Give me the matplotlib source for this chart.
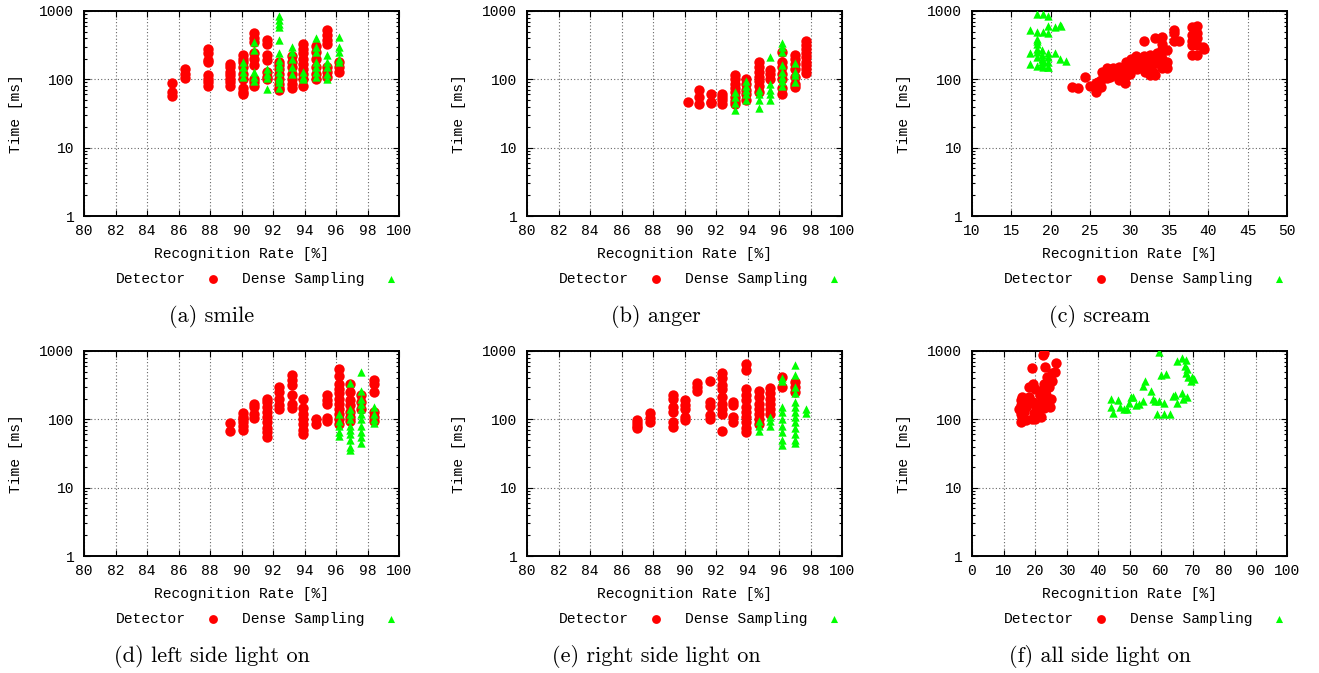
import matplotlib
matplotlib.use("Agg")
import matplotlib.pyplot as plt
from matplotlib.ticker import LogLocator, NullFormatter, FixedLocator

plt.rcParams["font.family"] = ["Liberation Mono", "DejaVu Sans Mono"]

# ---- data: (a) smile  -- columns of x with the times measured there
smile_det_x = [85.6, 86.4, 87.9, 89.3, 90.1, 90.8, 91.6, 92.4, 93.2, 93.9, 94.7, 95.4, 96.2]
smile_det_y = [[88, 65, 57], [140, 120, 105], [280, 240, 190, 180, 115, 100, 90, 80],
               [170, 150, 130, 115, 100, 90, 80], [230, 200, 180, 150, 120, 100, 75, 65, 60],
               [470, 400, 350, 240, 200, 160, 100, 90, 80], [380, 330, 230, 190, 130, 110, 100],
               [180, 160, 140, 120, 100, 85, 75, 70], [220, 180, 150, 120, 100, 85, 75],
               [330, 280, 240, 200, 170, 140, 120, 100, 80], [310, 250, 200, 150, 120, 100],
               [520, 450, 380, 330, 150, 130, 110], [180, 150, 130]]
smile_den_x = [90.1, 90.8, 91.6, 92.4, 93.2, 93.9, 94.7, 95.4, 96.2]
smile_den_y = [[180, 150, 130, 110], [350, 270, 130, 110, 95], [140, 120, 105, 72],
               [850, 750, 650, 580, 380, 240, 190, 170, 150, 130, 110, 100, 90, 75],
               [300, 250, 200, 150, 120], [130, 110, 100], [400, 300, 250, 180, 150, 130, 110],
               [230, 180, 150, 120, 100], [420, 300, 250, 200, 180]]

# ---- (b) anger
anger_det_x = [90.2, 90.9, 91.7, 92.4, 93.2, 93.9, 94.7, 95.4, 96.2, 97.0, 97.7]
anger_det_y = [[47], [70, 55, 43], [62, 47, 45], [62, 55, 50, 44],
               [115, 100, 85, 75, 65, 55, 48, 43], [100, 85, 70, 60, 50],
               [180, 150, 130, 110, 95, 80, 65], [135, 120, 100],
               [250, 180, 150, 120, 100, 75, 62], [230, 200, 170, 140, 110, 85, 78],
               [370, 320, 280, 240, 210, 180, 160, 140, 125]]
anger_den_x = [93.2, 93.9, 94.7, 95.4, 96.2, 97.0]
anger_den_y = [[65, 55, 45, 36], [95, 80, 70, 60, 50], [70, 60, 50, 38],
               [215, 85, 70, 60, 50], [340, 300, 250, 160, 130, 110, 95, 80], [175, 130, 115, 90]]

# ---- (c) scream
scream_det_x = [22.7, 23.4, 24.3, 25.0, 25.8, 25.8, 26.4, 26.4, 26.5, 27.1, 27.2, 27.2, 27.9, 27.9,
                28.7, 28.7, 29.4, 29.4, 29.5, 30.1, 30.2, 30.8, 30.8, 31.8, 31.8, 31.8, 32.6, 32.6,
                32.6, 33.3, 33.3, 33.3, 34.1, 34.1, 34.1, 34.1, 34.1, 34.8, 34.8, 34.8, 35.6, 35.6,
                35.6, 36.3, 37.9, 37.9, 37.9, 37.9, 37.9, 38.6, 38.6, 38.6, 38.6, 38.6, 39.4, 39.3,
                28.0, 28.5, 29.0, 29.5, 30.0, 30.5, 31.0, 31.5, 32.0, 32.5, 33.0, 33.5, 34.0, 31.0,
                32.0, 33.0, 34.0, 30.0, 29.0, 27.5, 26.8, 26.0]
scream_det_y = [76, 74, 107, 80, 66, 87, 76, 98, 130, 103, 145, 130, 115, 145,
                150, 98, 110, 88, 180, 130, 200, 220, 160, 370, 145, 220, 115, 230,
                160, 400, 115, 200, 420, 280, 200, 145, 330, 270, 180, 145, 530, 470,
                360, 370, 580, 450, 360, 320, 230, 600, 470, 400, 320, 230, 280, 300,
                130, 120, 125, 140, 160, 175, 190, 200, 180, 210, 170, 240, 230, 140,
                130, 130, 160, 120, 100, 110, 120, 90]
scream_den_x = [18.2, 19.0, 19.7, 17.4, 18.2, 19.0, 19.6, 19.7, 20.5, 21.2, 21.3, 18.2, 18.2, 18.2,
                17.4, 18.2, 18.2, 18.9, 18.9, 18.9, 18.9, 18.9, 19.7, 19.7, 19.7, 19.7, 20.5, 21.2,
                21.9, 17.4, 18.2, 19.0, 19.7, 19.0, 18.3]
scream_den_y = [900, 900, 850, 530, 500, 500, 470, 600, 580, 620, 600, 390, 360, 330,
                245, 280, 250, 270, 230, 200, 180, 160, 240, 210, 180, 150, 240, 200,
                185, 170, 155, 150, 150, 185, 210]

# ---- (d) left side light on
left_det_x = [89.3, 90.1, 90.8, 91.6, 92.4, 93.2, 93.9, 94.7, 95.4, 96.2, 96.9, 97.6, 98.4]
left_det_y = [[88, 68], [125, 110, 100, 90, 80, 70], [170, 150, 120, 105],
              [200, 180, 150, 130, 110, 90, 75, 65, 55], [300, 250, 200, 160, 140],
              [440, 380, 320, 230, 165, 145], [200, 145, 120, 100, 85, 70, 60], [100, 85],
              [230, 190, 170, 105, 95], [550, 430, 330, 280, 240, 200, 170, 140, 120, 100, 85],
              [330, 250, 190, 160, 130, 110, 95], [230, 180, 140], [380, 330, 250, 130, 110, 95]]
left_den_x = [96.2, 96.9, 97.6, 98.4]
left_den_y = [[120, 95, 80, 65, 57], [340, 140, 120, 100, 80, 70, 60, 50, 40, 35],
              [500, 260, 200, 170, 140, 120, 100, 80, 65, 55, 45], [150, 120, 100, 88]]

# ---- (e) right side light on
right_det_x = [87.0, 87.8, 89.3, 90.0, 90.8, 91.6, 92.4, 93.1, 93.9, 94.7, 95.4, 96.2, 97.0]
right_det_y = [[98, 88, 80, 74], [122, 105, 90], [225, 200, 150, 130, 90, 78],
               [195, 160, 140, 110, 97], [340, 300, 260], [360, 180, 155, 115, 100],
               [480, 400, 320, 280, 210, 170, 140, 120, 68], [180, 160, 110, 90],
               [640, 520, 280, 230, 190, 150, 130, 110, 90, 75, 65],
               [260, 210, 170, 140, 120, 100, 85], [290, 240, 200, 170, 140, 120],
               [420, 300], [350, 300, 250]]
right_den_x = [94.7, 95.4, 96.2, 97.0, 97.7]
right_den_y = [[95, 80, 67], [110, 95, 80], [400, 370, 150, 130, 100, 80, 65, 50, 42],
               [620, 440, 300, 240, 180, 150, 130, 110, 90, 75, 62, 50, 45], [140, 125]]

# ---- (f) all side light on
all_det_x = [15.4, 15.4, 15.4, 15.4, 15.9, 17.2, 17.2, 17.5, 18.2, 19.0, 19.3, 19.4, 19.1, 19.6,
             20.1, 20.7, 21.5, 22.1, 22.5, 22.8, 22.8, 23.3, 23.4, 23.9, 23.9, 24.4, 24.9, 25.5,
             25.5, 26.2, 26.8, 25.1, 23.3, 21.8, 20.1, 15.0, 16.5, 18.0, 21.0, 22.0, 24.0, 20.0,
             22.9, 16.0]
all_det_y = [92, 120, 160, 190, 105, 150, 98, 175, 300, 560, 330, 180, 100, 125,
             160, 120, 230, 190, 870, 330, 145, 590, 230, 420, 170, 300, 150, 470,
             360, 500, 660, 200, 250, 110, 100, 140, 130, 210, 150, 260, 360, 280,
             950, 210]
all_den_x = [44.0, 44.2, 44.8, 46.3, 46.9, 48.4, 49.3, 49.9, 50.6, 51.1, 52.2, 53.0, 54.3, 54.3,
             55.0, 56.9, 57.5, 58.2, 58.8, 59.5, 59.5, 60.1, 60.8, 61.0, 61.5, 62.7, 63.9, 64.6,
             65.2, 65.2, 66.8, 66.8, 67.1, 67.8, 67.8, 68.1, 68.2, 69.6, 69.9, 70.5, 68.7, 67.6]
all_den_y = [200, 150, 125, 190, 150, 140, 140, 175, 210, 215, 160, 170, 185, 310,
             360, 260, 200, 185, 120, 980, 185, 440, 175, 120, 460, 120, 220, 225,
             175, 720, 800, 240, 200, 750, 470, 210, 550, 360, 420, 390, 420, 600]

captions = ["(a) smile", "(b) anger", "(c) scream",
            "(d) left side light on", "(e) right side light on", "(f) all side light on"]
x_ranges = [(80, 100, 2), (80, 100, 2), (10, 50, 5), (80, 100, 2), (80, 100, 2), (0, 100, 10)]


def expand(xs, cols):
    px, py = [], []
    for x, ys in zip(xs, cols):
        px += [x] * len(ys)
        py += ys
    return px, py


panels = [
    (expand(smile_det_x, smile_det_y), expand(smile_den_x, smile_den_y)),
    (expand(anger_det_x, anger_det_y), expand(anger_den_x, anger_den_y)),
    ((scream_det_x, scream_det_y), (scream_den_x, scream_den_y)),
    (expand(left_det_x, left_det_y), expand(left_den_x, left_den_y)),
    (expand(right_det_x, right_det_y), expand(right_den_x, right_den_y)),
    ((all_det_x, all_det_y), (all_den_x, all_den_y)),
]

W, H = 1319, 673
fig = plt.figure(figsize=(W / 100, H / 100), dpi=100)

lefts = [84, 527, 972]
tops = [11, 351]
cap_x = [212, 656, 1100]
cap_y = [317, 657]

for i, ((dx, dy), (gx, gy)) in enumerate(panels):
    r, c = divmod(i, 3)
    ax = fig.add_axes([lefts[c] / W, 1 - (tops[r] + 205) / H, 315 / W, 205 / H])
    ax.scatter(dx, dy, s=56, c="#ff0000", marker="o", linewidths=0, label="Detector", zorder=3)
    ax.scatter(gx, gy, s=36, c="#00ff00", marker="^", linewidths=0, label="Dense Sampling", zorder=4)

    lo, hi, step = x_ranges[i]
    ax.set_xlim(lo, hi)
    ax.set_ylim(1, 1000)
    ax.set_yscale("log")
    ax.xaxis.set_major_locator(FixedLocator(list(range(lo, hi + 1, step))))
    ax.yaxis.set_minor_locator(LogLocator(base=10, subs=range(2, 10), numticks=10))
    ax.yaxis.set_minor_formatter(NullFormatter())
    ax.set_yticks([1, 10, 100, 1000])
    ax.set_yticklabels(["1", "10", "100", "1000"])

    ax.tick_params(which="both", direction="in", top=True, right=True, labelsize=10.5)
    ax.tick_params(which="major", length=4, width=0.8)
    ax.tick_params(which="minor", length=2.5, width=0.8)
    ax.tick_params(axis="y", pad=7)
    ax.tick_params(axis="x", pad=6)
    for sp in ax.spines.values():
        sp.set_linewidth(1.4)

    ax.grid(True, which="major", color="#666666", linestyle=(0, (1, 2)), linewidth=0.8)

    ax.set_xlabel("Recognition Rate [%]", fontsize=10.5)
    ax.set_ylabel("Time [ms]", fontsize=10.5)
    ax.xaxis.label.set_va("center")
    ax.yaxis.label.set_va("center")
    ax.xaxis.set_label_coords(0.5, -38 / 205)
    ax.yaxis.set_label_coords(-68 / 315, 0.5)

    ax.legend(loc="center", bbox_to_anchor=(0.561, -0.307), ncol=2, frameon=False,
              markerfirst=False, fontsize=10.5, handlelength=2.0, handletextpad=0.8,
              columnspacing=1.0, markerscale=0.85, borderaxespad=0)

    fig.text(cap_x[c] / W, 1 - cap_y[r] / H, captions[i], ha="center", va="center",
             fontsize=16, family="cmr10")

fig.savefig("out.png", dpi=100)
